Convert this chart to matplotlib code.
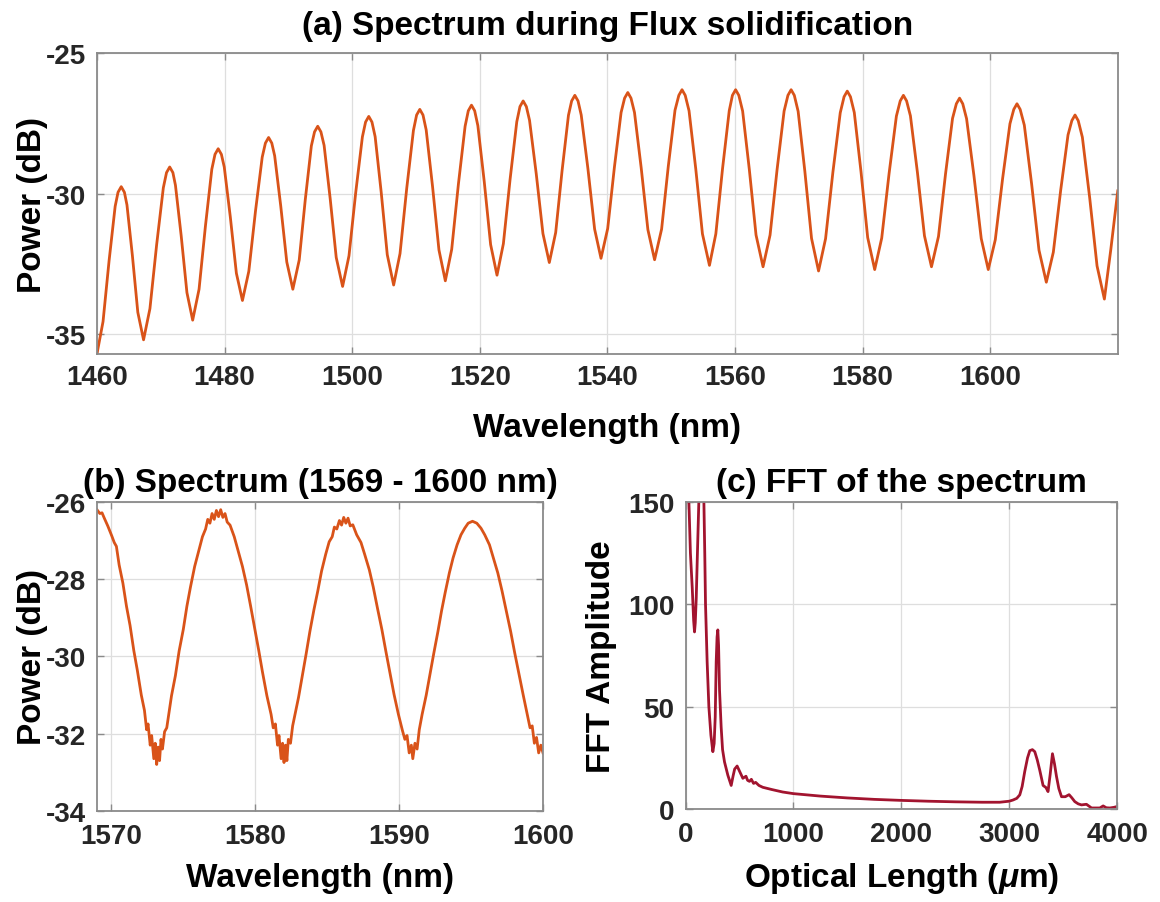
import matplotlib
matplotlib.use("Agg")
import matplotlib.pyplot as plt

# ---------------- data ----------------
# (a) full spectrum during flux solidification (one fringe per row)
wl_a = [1460.0, 1460.95, 1461.9, 1462.85,
        1463.3, 1463.8, 1464.3, 1464.7, 1465.55, 1466.4, 1467.3, 1468.3, 1469.35, 1470.4,
        1470.9, 1471.4, 1471.9, 1472.3, 1473.2, 1474.1, 1475.0, 1476.0, 1477.0, 1478.0,
        1478.5, 1479.0, 1479.5, 1479.95, 1480.9, 1481.85, 1482.8, 1483.8, 1484.85, 1485.9,
        1486.4, 1486.9, 1487.4, 1487.85, 1488.8, 1489.75, 1490.7, 1491.7, 1492.65, 1493.6,
        1494.1, 1494.6, 1495.1, 1495.6, 1496.55, 1497.5, 1498.5, 1499.5, 1500.55, 1501.6,
        1502.1, 1502.6, 1503.1, 1503.6, 1504.55, 1505.5, 1506.5, 1507.5, 1508.55, 1509.6,
        1510.1, 1510.6, 1511.1, 1511.6, 1512.6, 1513.6, 1514.6, 1515.6, 1516.65, 1517.7,
        1518.2, 1518.7, 1519.2, 1519.7, 1520.7, 1521.7, 1522.7, 1523.7, 1524.75, 1525.8,
        1526.3, 1526.8, 1527.3, 1527.8, 1528.85, 1529.9, 1530.9, 1531.9, 1532.9, 1533.9,
        1534.4, 1534.9, 1535.4, 1535.9, 1536.95, 1538.0, 1539.0, 1540.05, 1541.1, 1542.15,
        1542.7, 1543.2, 1543.7, 1544.25, 1545.3, 1546.35, 1547.4, 1548.5, 1549.55, 1550.6,
        1551.2, 1551.7, 1552.2, 1552.8, 1553.85, 1554.9, 1556.0, 1557.0, 1558.05, 1559.1,
        1559.6, 1560.1, 1560.6, 1561.2, 1562.25, 1563.3, 1564.4, 1565.5, 1566.6, 1567.7,
        1568.3, 1568.8, 1569.3, 1569.9, 1570.95, 1572.0, 1573.1, 1574.2, 1575.35, 1576.5,
        1577.1, 1577.6, 1578.1, 1578.7, 1579.75, 1580.8, 1581.9, 1583.0, 1584.15, 1585.3,
        1585.9, 1586.4, 1586.9, 1587.5, 1588.6, 1589.7, 1590.8, 1591.9, 1593.0, 1594.1,
        1594.7, 1595.2, 1595.7, 1596.3, 1597.45, 1598.6, 1599.7, 1600.8, 1601.95, 1603.1,
        1603.7, 1604.2, 1604.7, 1605.35, 1606.5, 1607.65, 1608.8, 1609.9, 1611.05, 1612.2,
        1612.8, 1613.3, 1613.8, 1614.45, 1615.6, 1616.75, 1617.9, 1618.9, 1620.0]
pw_a = [-35.70, -34.55, -32.38, -30.45,
        -29.95, -29.75, -29.95, -30.40, -32.20, -34.22, -35.20, -34.09, -31.82, -29.79,
        -29.25, -29.05, -29.25, -29.70, -31.50, -33.52, -34.50, -33.40, -31.15, -29.13,
        -28.60, -28.40, -28.60, -29.05, -30.83, -32.83, -33.80, -32.76, -30.61, -28.70,
        -28.20, -28.00, -28.20, -28.65, -30.43, -32.43, -33.40, -32.36, -30.21, -28.30,
        -27.80, -27.60, -27.80, -28.28, -30.17, -32.27, -33.30, -32.21, -29.97, -27.98,
        -27.45, -27.25, -27.45, -27.97, -29.95, -32.17, -33.25, -32.13, -29.81, -27.75,
        -27.20, -27.00, -27.20, -27.73, -29.75, -32.00, -33.10, -31.98, -29.66, -27.60,
        -27.05, -26.85, -27.05, -27.58, -29.57, -31.81, -32.90, -31.78, -29.49, -27.44,
        -26.90, -26.70, -26.90, -27.39, -29.29, -31.42, -32.45, -31.38, -29.18, -27.21,
        -26.70, -26.50, -26.70, -27.20, -29.11, -31.26, -32.30, -31.24, -29.06, -27.11,
        -26.60, -26.40, -26.60, -27.11, -29.08, -31.28, -32.35, -31.26, -29.02, -27.03,
        -26.50, -26.30, -26.50, -27.05, -29.11, -31.43, -32.55, -31.43, -29.11, -27.05,
        -26.50, -26.30, -26.50, -27.06, -29.14, -31.47, -32.60, -31.47, -29.14, -27.06,
        -26.50, -26.30, -26.50, -27.07, -29.20, -31.59, -32.75, -31.60, -29.23, -27.12,
        -26.55, -26.35, -26.55, -27.11, -29.21, -31.56, -32.70, -31.58, -29.29, -27.24,
        -26.70, -26.50, -26.70, -27.23, -29.25, -31.50, -32.60, -31.52, -29.30, -27.32,
        -26.80, -26.60, -26.80, -27.33, -29.35, -31.60, -32.70, -31.64, -29.46, -27.51,
        -27.00, -26.80, -27.00, -27.56, -29.66, -32.01, -33.15, -32.08, -29.88, -27.91,
        -27.40, -27.20, -27.40, -27.99, -30.15, -32.57, -33.75, -32.00, -29.90]

# (b) zoom 1569 - 1600 nm
wl_b = [1569.00, 1569.20, 1569.35, 1569.51, 1569.75, 1570.03, 1570.20, 1570.35,
        1570.54, 1570.80, 1571.05, 1571.30, 1571.56, 1571.80, 1572.08, 1572.30,
        1572.45, 1572.55, 1572.70, 1572.80, 1572.95, 1573.05, 1573.15, 1573.25,
        1573.35, 1573.45, 1573.55, 1573.70, 1573.85, 1574.18, 1574.45, 1574.71,
        1575.00, 1575.25, 1575.50, 1575.79, 1576.05, 1576.33, 1576.55, 1576.70,
        1576.85, 1577.00, 1577.15, 1577.30, 1577.45, 1577.60, 1577.75, 1577.90,
        1578.05, 1578.25, 1578.54, 1578.80, 1579.11, 1579.40, 1579.68, 1579.95,
        1580.25, 1580.50, 1580.81, 1581.10, 1581.25, 1581.40, 1581.55, 1581.65,
        1581.80, 1581.90, 1582.00, 1582.10, 1582.20, 1582.30, 1582.45, 1582.60,
        1583.01, 1583.25, 1583.54, 1583.80, 1584.08, 1584.35, 1584.61, 1584.90,
        1585.14, 1585.35, 1585.50, 1585.67, 1585.85, 1586.00, 1586.15, 1586.30,
        1586.45, 1586.60, 1586.78, 1587.05, 1587.35, 1587.60, 1587.93, 1588.20,
        1588.50, 1588.80, 1589.08, 1589.35, 1589.65, 1589.95, 1590.23, 1590.40,
        1590.55, 1590.70, 1590.85, 1590.95, 1591.10, 1591.25, 1591.40, 1591.60,
        1591.88, 1592.15, 1592.41, 1592.70, 1592.95, 1593.20, 1593.49, 1593.75,
        1594.03, 1594.30, 1594.56, 1594.80, 1595.10, 1595.40, 1595.69, 1595.95,
        1596.28, 1596.55, 1596.86, 1597.15, 1597.45, 1597.75, 1598.04, 1598.35,
        1598.63, 1598.90, 1599.10, 1599.25, 1599.40, 1599.55, 1599.70, 1599.85,
        1600.00]
pw_b = [-26.20, -26.30, -26.28, -26.42, -26.62, -26.88, -27.05, -27.15,
        -27.63, -28.10, -28.70, -29.20, -29.85, -30.35, -31.00, -31.40,
        -31.90, -31.75, -32.30, -32.05, -32.65, -32.25, -32.80, -32.35,
        -32.70, -32.15, -32.40, -31.95, -31.85, -31.02, -30.50, -29.86,
        -29.30, -28.70, -28.20, -27.67, -27.30, -26.90, -26.70, -26.45,
        -26.55, -26.30, -26.45, -26.22, -26.38, -26.20, -26.40, -26.30,
        -26.52, -26.60, -26.90, -27.25, -27.67, -28.15, -28.70, -29.25,
        -29.86, -30.40, -31.02, -31.50, -31.85, -31.75, -32.30, -32.05,
        -32.65, -32.25, -32.75, -32.30, -32.70, -32.15, -32.25, -31.80,
        -31.06, -30.55, -29.93, -29.35, -28.79, -28.30, -27.79, -27.35,
        -27.03, -26.90, -26.65, -26.70, -26.48, -26.60, -26.40, -26.55,
        -26.42, -26.62, -26.59, -26.85, -27.05, -27.35, -27.76, -28.20,
        -28.76, -29.30, -29.87, -30.40, -30.99, -31.50, -31.92, -32.15,
        -32.05, -32.50, -32.30, -32.65, -32.25, -32.40, -31.90, -31.50,
        -31.01, -30.45, -29.92, -29.35, -28.82, -28.35, -27.84, -27.45,
        -27.11, -26.85, -26.68, -26.55, -26.50, -26.55, -26.68, -26.85,
        -27.11, -27.45, -27.84, -28.30, -28.82, -29.35, -29.92, -30.50,
        -31.01, -31.50, -31.85, -31.80, -32.25, -32.10, -32.50, -32.30,
        -32.50]

# (c) FFT of the spectrum
len_c = [25, 31, 45, 62, 75, 83, 90, 99, 110, 123, 135, 150, 165, 170, 178,
         185, 200, 216, 235, 253, 265, 275, 284, 292, 299, 306, 315, 330, 343,
         361, 392, 423, 440, 455, 478, 500, 531, 560, 575, 593, 610, 630, 650,
         680, 716, 800, 900, 1000, 1250, 1500, 1750, 2000, 2250, 2500, 2750,
         2912, 3000, 3036, 3070, 3098, 3120, 3144, 3170, 3191, 3215, 3237, 3260,
         3283, 3314, 3340, 3360, 3380, 3401, 3420, 3438, 3460, 3485, 3520, 3555,
         3580, 3608, 3640, 3670, 3716, 3763, 3800, 3840, 3871, 3900, 3933, 3970,
         4000]
amp_c = [175, 150, 125, 108, 92, 86.5, 91, 103, 125, 150, 175, 185, 170, 150,
         125, 100, 72, 50, 36, 28, 32, 45, 72, 84, 87.5, 80, 58, 40, 29, 23,
         16.5, 11.5, 16, 19.5, 21, 18.5, 15, 16, 14, 13.5, 14.5, 12.5, 13, 11.5,
         10.6, 9.5, 8.3, 7.5, 6.3, 5.4, 4.7, 4.2, 3.8, 3.5, 3.3, 3.3, 3.8, 4.4,
         5.2, 6.9, 11, 18.3, 25, 28.5, 29, 28, 24, 19, 11.5, 10.5, 8.5, 17, 27,
         22, 16, 10, 6, 6, 7, 5.5, 3.6, 2.5, 2.0, 2.3, 0.5, 0.5, 0.5, 1.5, 0.6,
         0.5, 0.8, 1.2]

# ---------------- style ----------------
plt.rcParams['font.family'] = ['Liberation Sans', 'DejaVu Sans']
plt.rcParams['font.weight'] = 'bold'
plt.rcParams['axes.unicode_minus'] = False
plt.rcParams['mathtext.fontset'] = 'custom'
plt.rcParams['mathtext.it'] = 'Liberation Sans:italic'

ORANGE = "#D95319"
CRIMSON = "#A2142F"
TICK_FS = 20
LABEL_FS = 24
TITLE_FS = 24


def style_axes(ax, xpad=7):
    ax.grid(True, color="#dedede", linewidth=0.9)
    ax.set_axisbelow(True)
    for sp in ax.spines.values():
        sp.set_color("#8a8a8a")
        sp.set_linewidth(1.3)
    ax.tick_params(direction="in", length=5, width=1, color="#8a8a8a",
                   top=True, right=True, labelsize=TICK_FS, labelcolor="#262626")
    ax.tick_params(axis="x", pad=xpad)
    ax.tick_params(axis="y", pad=8)
    for lab in ax.get_xticklabels() + ax.get_yticklabels():
        lab.set_fontweight("bold")


fig = plt.figure(figsize=(11.6, 9.03), dpi=100)

# (a)
ax1 = fig.add_axes([0.0836, 0.607, 0.880, 0.333])
ax1.plot(wl_a, pw_a, color=ORANGE, linewidth=2.0)
ax1.set_xlim(1460, 1620)
ax1.set_ylim(-35.7, -25)
ax1.set_xticks(range(1460, 1601, 20))
ax1.set_yticks([-35, -30, -25])
ax1.set_xlabel("Wavelength (nm)", fontsize=LABEL_FS, fontweight="bold", labelpad=16)
ax1.set_ylabel("Power (dB)", fontsize=LABEL_FS, fontweight="bold", labelpad=-2)
ax1.set_title("(a) Spectrum during Flux solidification", fontsize=TITLE_FS,
              fontweight="bold", pad=14)
style_axes(ax1)

# (b)
ax2 = fig.add_axes([0.0836, 0.101, 0.3845, 0.342])
ax2.plot(wl_b, pw_b, color=ORANGE, linewidth=2.0)
ax2.set_xlim(1569, 1600)
ax2.set_ylim(-34, -26)
ax2.set_xticks([1570, 1580, 1590, 1600])
ax2.set_yticks([-34, -32, -30, -28, -26])
ax2.set_xlabel("Wavelength (nm)", fontsize=LABEL_FS, fontweight="bold", labelpad=9)
ax2.set_ylabel("Power (dB)", fontsize=LABEL_FS, fontweight="bold", labelpad=-2)
ax2.set_title("(b) Spectrum (1569 - 1600 nm)", fontsize=TITLE_FS,
              fontweight="bold", pad=8)
style_axes(ax2, xpad=9)

# (c)
ax3 = fig.add_axes([0.591, 0.103, 0.372, 0.340])
ax3.plot(len_c, amp_c, color=CRIMSON, linewidth=2.0)
ax3.set_xlim(0, 4000)
ax3.set_ylim(0, 150)
ax3.set_xticks([0, 1000, 2000, 3000, 4000])
ax3.set_yticks([0, 50, 100, 150])
ax3.set_xlabel(r"Optical Length ($\mu$m)", fontsize=LABEL_FS, fontweight="bold", labelpad=9)
ax3.set_ylabel("FFT Amplitude", fontsize=LABEL_FS, fontweight="bold", labelpad=8)
ax3.set_title("(c) FFT of the spectrum", fontsize=TITLE_FS, fontweight="bold", pad=8)
style_axes(ax3, xpad=9)

fig.savefig("out.png", dpi=100)
